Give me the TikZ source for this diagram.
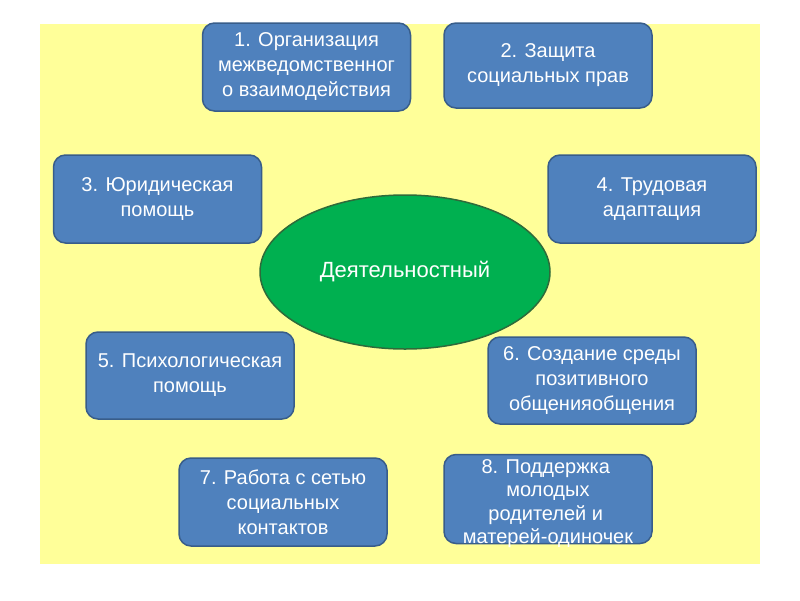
\documentclass[tikz,border=0pt]{standalone}
\usepackage{fontspec}
\setmainfont{Liberation Sans}
\usepackage{tikz}
\usetikzlibrary{shapes.geometric}

\definecolor{gelb}{HTML}{FFFF99}
\definecolor{kastenblau}{HTML}{4F81BD}
\definecolor{randblau}{HTML}{385D8A}
\definecolor{gruen}{HTML}{00B050}
\definecolor{randgruen}{HTML}{2E6B3A}

\begin{document}
\begin{tikzpicture}
		[
		x=1pt, y=-1pt, font=\fontsize{20}{25}\selectfont,
		%Voreinstellung für die Kästen
		kasten/.style={draw=randblau, line width=1.5pt, fill=kastenblau, rounded corners=12pt,
			text=white, align=center, minimum width=208pt, minimum height=88pt, inner sep=0pt},
		mitte/.style={ellipse, draw=randgruen, line width=1.5pt, fill=gruen, text=white,
			minimum width=290pt, minimum height=154pt, inner sep=0pt, font=\fontsize{22}{26}\selectfont}
		]
		
		%Rahmen und Hintergrund
		\useasboundingbox (0,0) rectangle (800,600);
		\fill [gelb] (40,24) rectangle (760,564);
		
		%Ellipse in der Mitte
		\node [mitte] (akt) at (405,272) {Деятельностный};
		
		%Kästen
		\node [kasten] (org) at (306.5,67) {1. Организация\\межведомственног\\о взаимодействия};
		\node [kasten, minimum height=85pt] (prava) at (548,65.5) {2. Защита\\социальных прав};
		\node [kasten] (jur) at (157.5,199) {3. Юридическая\\помощь};
		\node [kasten] (trud) at (652,199) {4. Трудовая\\адаптация};
		\node [kasten, minimum height=87pt] (psych) at (190,375.5) {5. Психологическая\\помощь};
		\node [kasten, minimum height=87pt] (sreda) at (592,380.5) {6. Создание среды\\позитивного\\общенияобщения};
		\node [kasten] (set) at (283,502) {7. Работа с сетью\\социальных\\контактов};
		%Text ragt unten etwas heraus
		\node [kasten, font=\fontsize{20}{23.3}\selectfont, text height=89pt, text depth=-1pt] (rod) at (548,499)
			{8. Поддержка\hphantom{i}\\молодых\\родителей и\hphantom{i}\\матерей-одиночек};
	\end{tikzpicture}
\end{document}
